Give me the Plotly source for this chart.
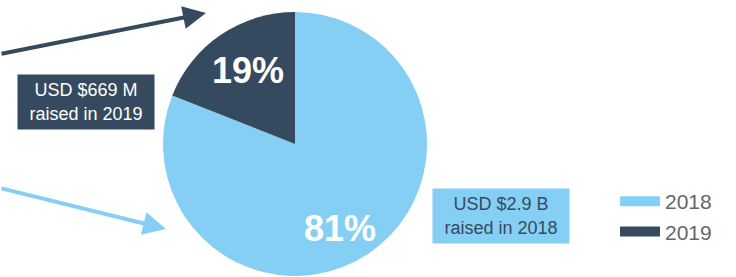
import plotly.graph_objects as go

W, H = 736, 277

years = ["2018", "2019"]
shares = [81, 19]
share_labels = ["81%", "19%"]
box_texts = ["USD $2.9 B<br>raised in 2018", "USD $669 M<br>raised in 2019"]

LIGHT = "#86cff4"
DARK = "#354a5f"
colors = [LIGHT, DARK]
FONT = "Liberation Sans, Arial, Helvetica, sans-serif"

fig = go.Figure()

# pie
cx, cy, r = 295, 144, 132
fig.add_trace(go.Pie(
    labels=years, values=shares, sort=False, direction="clockwise", rotation=0,
    marker=dict(colors=colors, line=dict(width=0)),
    textinfo="none", hoverinfo="label+percent", showlegend=False,
    domain=dict(x=[(cx - r) / W, (cx + r) / W], y=[(H - cy - r) / H, (H - cy + r) / H]),
))

# legend entries
for yr, c in zip(years, colors):
    fig.add_trace(go.Scatter(x=[None], y=[None], mode="lines", name=yr,
                             line=dict(color=c, width=10)))

def P(x, y):
    return dict(x=x / W, y=1 - y / H, xref="paper", yref="paper",
                xanchor="center", yanchor="middle")

ann = []
# percentage labels
ann.append(dict(**P(340, 228), text=f"<b>{share_labels[0]}</b>", showarrow=False,
                font=dict(size=36, color="white", family=FONT)))
ann.append(dict(**P(248, 70), text=f"<b>{share_labels[1]}</b>", showarrow=False,
                font=dict(size=36, color="white", family=FONT)))
# boxes
ann.append(dict(**P(501, 216), text=box_texts[0], showarrow=False, bgcolor=LIGHT,
                width=136, height=54, borderpad=0,
                font=dict(size=18, color=DARK, family=FONT)))
ann.append(dict(**P(86, 102), text=box_texts[1], showarrow=False, bgcolor=DARK,
                width=136, height=54, borderpad=0,
                font=dict(size=18, color="white", family=FONT)))
# arrows
ann.append(dict(x=206 / W, y=1 - 13 / H, ax=-226, ay=41, text="", showarrow=True,
                arrowhead=2, arrowsize=1.15, arrowwidth=4, arrowcolor=DARK,
                xref="paper", yref="paper"))
ann.append(dict(x=166 / W, y=1 - 229 / H, ax=-186, ay=-41, text="", showarrow=True,
                arrowhead=2, arrowsize=1.15, arrowwidth=4, arrowcolor=LIGHT,
                xref="paper", yref="paper"))

fig.update_layout(
    width=W, height=H, margin=dict(l=0, r=0, t=0, b=0),
    paper_bgcolor="white", plot_bgcolor="white",
    xaxis=dict(visible=False), yaxis=dict(visible=False),
    annotations=ann,
    legend=dict(x=615 / W, y=1 - 181 / H, xanchor="left", yanchor="top",
                font=dict(size=21, color="#666666", family=FONT),
                itemwidth=40, tracegroupgap=0, bgcolor="rgba(0,0,0,0)"),
)

fig.write_html("out.html", config={"displayModeBar": False},
               post_script="document.body.style.margin='0';")
